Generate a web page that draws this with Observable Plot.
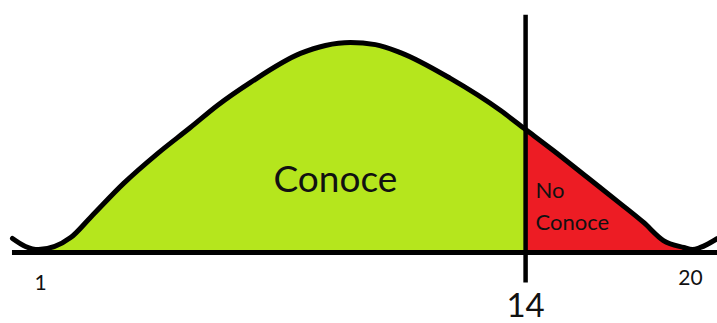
<!DOCTYPE html>
<html>
<head>
<meta charset="utf-8">
<script src="https://cdn.jsdelivr.net/npm/d3@7"></script>
<script src="https://cdn.jsdelivr.net/npm/@observablehq/plot@0.6"></script>
<style>
  html, body { margin: 0; padding: 0; background: #fff; }
  svg { display: block; }
</style>
</head>
<body>
<div id="chart"></div>
<script>
// Curve shape (score position along the axis, height in % of peak)
const curveX = [0.18, 0.56, 0.94, 1.88, 2.46, 3.43, 4.42, 5.38, 6.17, 7.14, 8.60, 9.33, 10.06, 10.79, 11.52, 12.98, 14.45, 15.18, 15.99, 16.99, 17.95, 18.63, 19.21, 19.80, 20.06, 20.29, 20.79];
const curveY = [6.7, 2.9, 1.4, 7.1, 16.7, 32.9, 47.1, 59.5, 70.0, 81.0, 94.8, 98.6, 100, 99.0, 95.2, 82.9, 67.6, 58.6, 48.6, 35.7, 23.3, 14.3, 5.7, 2.4, 1.4, 2.4, 6.7];

// Cut-off position and its label
const cutoff = 15.18;
const cutoffLabel = "14";

// Tick labels on the axis
const tickValues = [1, 20];
const tickLabels = ["1", "20"];

// Region labels
const regionNames = ["Conoce", "No\nConoce"];

const curve = curveX.map((x, i) => ({x, y: curveY[i]}));
const known = curve.filter(d => d.x >= 0.94 && d.x <= cutoff);
const unknown = curve.filter(d => d.x >= cutoff && d.x <= 20.06);
const ticks = tickValues.map((v, i) => ({x: v, label: tickLabels[i]}));

const chart = Plot.plot({
  width: 717,
  height: 323,
  margin: 0,
  style: {fontFamily: "Lato, 'Open Sans', sans-serif", background: "#fff"},
  x: {domain: [-0.17, 20.79], axis: null},
  y: {domain: [-33.8, 120], axis: null},
  marks: [
    Plot.areaY(known, {x: "x", y: "y", curve: "monotone-x", fill: "#b5e61d"}),
    Plot.areaY(unknown, {x: "x", y: "y", curve: "monotone-x", fill: "#ed1c24"}),
    Plot.ruleX([cutoff], {y1: -14.5, y2: 113, stroke: "#000", strokeWidth: 4.5}),
    Plot.ruleY([0], {x1: 0.18, x2: 20.79, stroke: "#000", strokeWidth: 5}),
    Plot.line(curve, {x: "x", y: "y", curve: "monotone-x", stroke: "#000", strokeWidth: 5}),
    Plot.text(ticks, {x: "x", y: d => d.label === "1" ? -14.8 : -12.4, text: "label", fontSize: 21, fill: "#111"}),
    Plot.text([cutoffLabel], {x: cutoff, y: -25.5, text: d => d, fontSize: 33, fill: "#111"}),
    Plot.text([regionNames[0]], {x: 9.62, y: 34.3, text: d => d, fontSize: 37, fill: "#111"}),
    Plot.text([regionNames[1]], {x: 15.47, y: 23, text: d => d, fontSize: 22, fill: "#111", textAnchor: "start", lineHeight: 1.45})
  ]
});
document.getElementById("chart").appendChild(chart);
</script>
</body>
</html>
